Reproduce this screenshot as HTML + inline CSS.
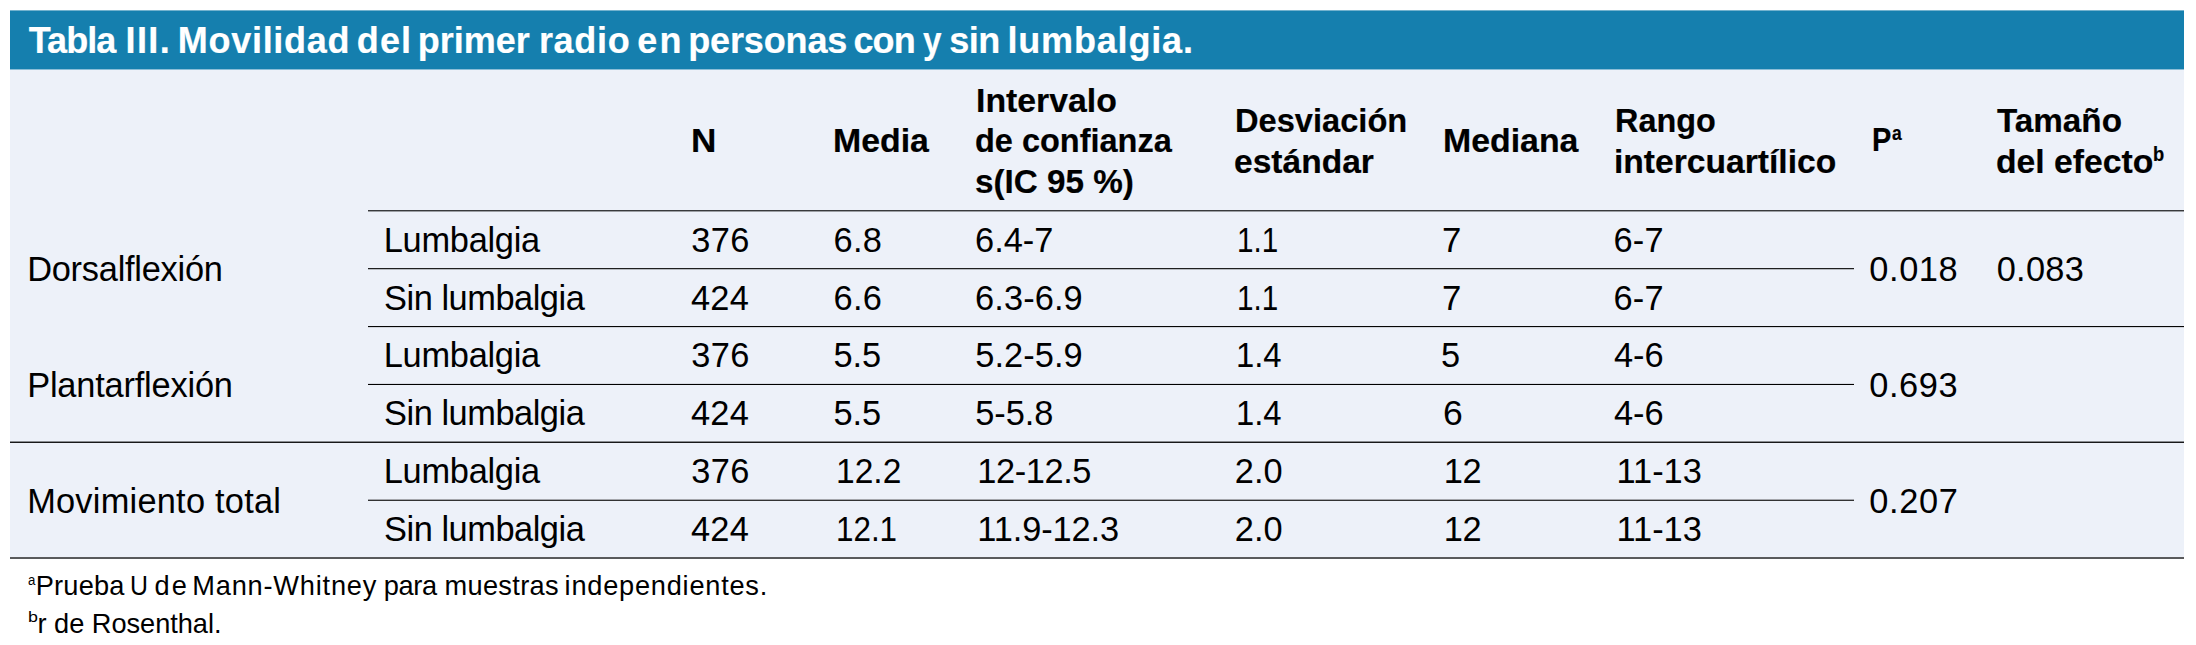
<!DOCTYPE html>
<html lang="es"><head><meta charset="utf-8"><title>Tabla III</title>
<style>
html,body{margin:0;padding:0;background:#fff;}
body{width:2196px;height:645px;position:relative;overflow:hidden;font-family:"Liberation Sans",sans-serif;}
.bar{position:absolute;left:10px;top:11px;width:2174px;height:58px;background:#157fae;}
.bg{position:absolute;left:10px;top:69px;width:2174px;height:488px;background:#edf1f9;}
.t{position:absolute;white-space:nowrap;line-height:1;margin:0;padding:0;color:#000;font-weight:400;transform-origin:0 0;}
.t.b{font-weight:700;-webkit-text-stroke:0.2px #000;}
.t.w{color:#fff;-webkit-text-stroke-color:#fff;}
p,sup{margin:0;padding:0;font-size:inherit;line-height:0;}
.l{position:absolute;}
</style></head><body>
<div class="bar"></div><div class="bg"></div>
<div class="l" style="left:10px;top:10px;width:2174px;height:1px;background:#73b2ce"></div><div class="l" style="left:10px;top:69px;width:2174px;height:1px;background:#8cbed7"></div>
<div class="l" style="left:368px;top:210px;width:1816px;height:1px;background:#393a3c"></div>
<div class="l" style="left:368px;top:211px;width:1816px;height:1px;background:#9c9fa4"></div>
<div class="l" style="left:368px;top:268px;width:1486px;height:1px;background:#1f1f20"></div>
<div class="l" style="left:368px;top:269px;width:1486px;height:1px;background:#b6bac0"></div>
<div class="l" style="left:368px;top:326px;width:1816px;height:1px;background:#050505"></div>
<div class="l" style="left:368px;top:327px;width:1816px;height:1px;background:#d1d4db"></div>
<div class="l" style="left:368px;top:383px;width:1486px;height:1px;background:#d8dbe3"></div>
<div class="l" style="left:368px;top:384px;width:1486px;height:1px;background:#000000"></div>
<div class="l" style="left:368px;top:499px;width:1486px;height:1px;background:#a4a6ac"></div>
<div class="l" style="left:368px;top:500px;width:1486px;height:1px;background:#323334"></div>
<div class="l" style="left:10px;top:441px;width:2174px;height:1px;background:#898c90"></div>
<div class="l" style="left:10px;top:442px;width:2174px;height:1px;background:#181819"></div>
<div class="l" style="left:10px;top:557px;width:2174px;height:1px;background:#5a5b5d"></div>
<div class="l" style="left:10px;top:558px;width:2174px;height:1px;background:#58595b"></div>
<div class="title" role="heading" aria-level="1"><span class="t b w" id="title_0" style="left:28.72px;top:23.03px;font-size:36.00px;letter-spacing:-0.929px">Tabla</span> <span class="t b w" id="title_1" style="left:125.45px;top:23.03px;font-size:36.00px;letter-spacing:1.454px">III.</span> <span class="t b w" id="title_2" style="left:177.72px;top:23.03px;font-size:36.00px;letter-spacing:0.730px">Movilidad</span> <span class="t b w" id="title_3" style="left:356.81px;top:23.03px;font-size:36.00px;letter-spacing:1.091px">del</span> <span class="t b w" id="title_4" style="left:417.68px;top:23.03px;font-size:36.00px;letter-spacing:0.010px">primer</span> <span class="t b w" id="title_5" style="left:538.90px;top:23.03px;font-size:36.00px;letter-spacing:0.720px">radio</span> <span class="t b w" id="title_6" style="left:637.32px;top:23.03px;font-size:36.00px;letter-spacing:2.218px">en</span> <span class="t b w" id="title_7" style="left:688.19px;top:23.03px;font-size:36.00px;letter-spacing:-0.134px">personas</span> <span class="t b w" id="title_8" style="left:853.43px;top:23.03px;font-size:36.00px;letter-spacing:-0.877px">con</span> <span class="t b w" id="title_9" style="left:923.25px;top:23.03px;font-size:36.00px;transform:scaleX(0.9238)">y</span> <span class="t b w" id="title_10" style="left:949.34px;top:23.03px;font-size:36.00px;letter-spacing:-0.542px">sin</span> <span class="t b w" id="title_11" style="left:1007.48px;top:23.03px;font-size:36.00px;letter-spacing:0.823px">lumbalgia.</span></div>
<div role="table" aria-label="Movilidad del primer radio en personas con y sin lumbalgia">
<div role="row"><div role="columnheader"><span class="t b" id="hN" style="left:691.26px;top:123.13px;font-size:34.10px;transform:scaleX(1.0303)">N</span></div><div role="columnheader"><span class="t b" id="hMedia" style="left:833.43px;top:123.13px;font-size:34.10px;transform:scaleX(0.9934)">Media</span></div><div role="columnheader"><span class="t b" id="hInt1" style="left:976.21px;top:82.63px;font-size:34.10px;transform:scaleX(0.9919)">Intervalo</span> <span class="t b" id="hInt2" style="left:975.16px;top:123.13px;font-size:34.10px;transform:scaleX(0.9534)">de confianza</span> <span class="t b" id="hInt3" style="left:974.65px;top:164.13px;font-size:34.10px;transform:scaleX(0.9751)">s(IC 95 %)</span></div><div role="columnheader"><span class="t b" id="hDes1" style="left:1235.02px;top:102.93px;font-size:34.10px;transform:scaleX(0.9571)">Desviación</span> <span class="t b" id="hDes2" style="left:1234.47px;top:143.53px;font-size:34.10px;transform:scaleX(0.9844)">estándar</span></div><div role="columnheader"><span class="t b" id="hMed" style="left:1442.82px;top:123.13px;font-size:34.10px;transform:scaleX(0.9933)">Mediana</span></div><div role="columnheader"><span class="t b" id="hRan1" style="left:1614.86px;top:103.13px;font-size:34.10px;transform:scaleX(0.9506)">Rango</span> <span class="t b" id="hRan2" style="left:1614.17px;top:143.53px;font-size:34.10px;transform:scaleX(0.9863)">intercuartílico</span></div><div role="columnheader"><span class="t b" id="hP" style="left:1872.28px;top:121.93px;font-size:34.10px;transform:scaleX(0.8503)">P</span><sup><span class="t b" id="hPa" style="left:1891.90px;top:123.28px;font-size:20.46px;transform:scaleX(0.8538)">a</span></sup></div><div role="columnheader"><span class="t b" id="hTam1" style="left:1997.30px;top:102.93px;font-size:34.10px;transform:scaleX(0.9752)">Tamaño</span> <span class="t b" id="hTam2" style="left:1995.88px;top:143.53px;font-size:34.10px;transform:scaleX(0.9893)">del efecto</span><sup><span class="t b" id="hTamb" style="left:2153.06px;top:144.18px;font-size:20.46px;transform:scaleX(0.8961)">b</span></sup></div></div>
<div role="row"><div role="rowheader"><span class="t" id="g1" style="left:27.15px;top:251.58px;font-size:34.40px;letter-spacing:-0.250px">Dorsalflexión</span></div><div role="cell"><span class="t" id="r0c0" style="left:383.71px;top:222.68px;font-size:34.40px;letter-spacing:-0.275px">Lumbalgia</span></div><div role="cell"><span class="t" id="r0c1" style="left:691.35px;top:222.68px;font-size:34.40px;letter-spacing:0.352px">376</span></div><div role="cell"><span class="t" id="r0c2" style="left:833.43px;top:222.68px;font-size:34.40px;letter-spacing:0.368px">6.8</span></div><div role="cell"><span class="t" id="r0c3" style="left:975.03px;top:222.68px;font-size:34.40px;letter-spacing:0.004px">6.4-7</span></div><div role="cell"><span class="t" id="r0c4" style="left:1236.51px;top:222.68px;font-size:34.40px;transform:scaleX(0.8622)">1.1</span></div><div role="cell"><span class="t" id="r0c5" style="left:1441.73px;top:222.68px;font-size:34.40px;transform:scaleX(1.0118)">7</span></div><div role="cell"><span class="t" id="r0c6" style="left:1613.43px;top:222.68px;font-size:34.40px;letter-spacing:0.189px">6-7</span></div><div role="cell"><span class="t" id="p1" style="left:1869.28px;top:251.58px;font-size:34.40px;letter-spacing:0.597px">0.018</span></div><div role="cell"><span class="t" id="e1" style="left:1996.74px;top:251.58px;font-size:34.40px;letter-spacing:0.252px">0.083</span></div></div>
<div role="row"><div role="cell"><span class="t" id="r1c0" style="left:384.06px;top:280.53px;font-size:34.40px;letter-spacing:-0.474px">Sin lumbalgia</span></div><div role="cell"><span class="t" id="r1c1" style="left:691.00px;top:280.53px;font-size:34.40px;letter-spacing:0.208px">424</span></div><div role="cell"><span class="t" id="r1c2" style="left:833.43px;top:280.53px;font-size:34.40px;letter-spacing:0.369px">6.6</span></div><div role="cell"><span class="t" id="r1c3" style="left:975.03px;top:280.53px;font-size:34.40px;letter-spacing:0.109px">6.3-6.9</span></div><div role="cell"><span class="t" id="r1c4" style="left:1236.51px;top:280.53px;font-size:34.40px;transform:scaleX(0.8622)">1.1</span></div><div role="cell"><span class="t" id="r1c5" style="left:1441.73px;top:280.53px;font-size:34.40px;transform:scaleX(1.0118)">7</span></div><div role="cell"><span class="t" id="r1c6" style="left:1613.43px;top:280.53px;font-size:34.40px;letter-spacing:0.189px">6-7</span></div></div>
<div role="row"><div role="rowheader"><span class="t" id="g2" style="left:27.15px;top:367.78px;font-size:34.40px;letter-spacing:-0.197px">Plantarflexión</span></div><div role="cell"><span class="t" id="r2c0" style="left:383.71px;top:338.38px;font-size:34.40px;letter-spacing:-0.275px">Lumbalgia</span></div><div role="cell"><span class="t" id="r2c1" style="left:691.35px;top:338.38px;font-size:34.40px;letter-spacing:0.352px">376</span></div><div role="cell"><span class="t" id="r2c2" style="left:833.60px;top:338.38px;font-size:34.40px;letter-spacing:-0.110px">5.5</span></div><div role="cell"><span class="t" id="r2c3" style="left:975.31px;top:338.38px;font-size:34.40px;letter-spacing:0.063px">5.2-5.9</span></div><div role="cell"><span class="t" id="r2c4" style="left:1236.11px;top:338.38px;font-size:34.40px;transform:scaleX(0.9543)">1.4</span></div><div role="cell"><span class="t" id="r2c5" style="left:1441.11px;top:338.38px;font-size:34.40px;transform:scaleX(0.9991)">5</span></div><div role="cell"><span class="t" id="r2c6" style="left:1614.08px;top:338.38px;font-size:34.40px;letter-spacing:-0.109px">4-6</span></div><div role="cell"><span class="t" id="p2" style="left:1869.28px;top:367.78px;font-size:34.40px;letter-spacing:0.567px">0.693</span></div></div>
<div role="row"><div role="cell"><span class="t" id="r3c0" style="left:384.06px;top:396.23px;font-size:34.40px;letter-spacing:-0.474px">Sin lumbalgia</span></div><div role="cell"><span class="t" id="r3c1" style="left:691.00px;top:396.23px;font-size:34.40px;letter-spacing:0.208px">424</span></div><div role="cell"><span class="t" id="r3c2" style="left:833.60px;top:396.23px;font-size:34.40px;letter-spacing:-0.110px">5.5</span></div><div role="cell"><span class="t" id="r3c3" style="left:975.31px;top:396.23px;font-size:34.40px;letter-spacing:-0.059px">5-5.8</span></div><div role="cell"><span class="t" id="r3c4" style="left:1236.11px;top:396.23px;font-size:34.40px;transform:scaleX(0.9543)">1.4</span></div><div role="cell"><span class="t" id="r3c5" style="left:1442.51px;top:396.23px;font-size:34.40px;transform:scaleX(1.0333)">6</span></div><div role="cell"><span class="t" id="r3c6" style="left:1614.08px;top:396.23px;font-size:34.40px;letter-spacing:-0.109px">4-6</span></div></div>
<div role="row"><div role="rowheader"><span class="t" id="g3" style="left:27.15px;top:483.58px;font-size:34.40px;letter-spacing:0.228px">Movimiento total</span></div><div role="cell"><span class="t" id="r4c0" style="left:383.71px;top:454.08px;font-size:34.40px;letter-spacing:-0.275px">Lumbalgia</span></div><div role="cell"><span class="t" id="r4c1" style="left:691.35px;top:454.08px;font-size:34.40px;letter-spacing:0.352px">376</span></div><div role="cell"><span class="t" id="r4c2" style="left:835.62px;top:454.08px;font-size:34.40px;transform:scaleX(0.9760)">12.2</span></div><div role="cell"><span class="t" id="r4c3" style="left:977.32px;top:454.08px;font-size:34.40px;letter-spacing:-0.428px">12-12.5</span></div><div role="cell"><span class="t" id="r4c4" style="left:1234.86px;top:454.08px;font-size:34.40px;letter-spacing:-0.072px">2.0</span></div><div role="cell"><span class="t" id="r4c5" style="left:1443.80px;top:454.08px;font-size:34.40px;letter-spacing:-0.331px">12</span></div><div role="cell"><span class="t" id="r4c6" style="left:1616.44px;top:454.08px;font-size:34.40px;letter-spacing:0.005px">11-13</span></div><div role="cell"><span class="t" id="p3" style="left:1869.28px;top:483.58px;font-size:34.40px;letter-spacing:0.642px">0.207</span></div></div>
<div role="row"><div role="cell"><span class="t" id="r5c0" style="left:384.06px;top:511.93px;font-size:34.40px;letter-spacing:-0.474px">Sin lumbalgia</span></div><div role="cell"><span class="t" id="r5c1" style="left:691.00px;top:511.93px;font-size:34.40px;letter-spacing:0.208px">424</span></div><div role="cell"><span class="t" id="r5c2" style="left:835.55px;top:511.93px;font-size:34.40px;transform:scaleX(0.9119)">12.1</span></div><div role="cell"><span class="t" id="r5c3" style="left:977.32px;top:511.93px;font-size:34.40px;letter-spacing:-0.117px">11.9-12.3</span></div><div role="cell"><span class="t" id="r5c4" style="left:1234.86px;top:511.93px;font-size:34.40px;letter-spacing:-0.072px">2.0</span></div><div role="cell"><span class="t" id="r5c5" style="left:1443.80px;top:511.93px;font-size:34.40px;letter-spacing:-0.331px">12</span></div><div role="cell"><span class="t" id="r5c6" style="left:1616.44px;top:511.93px;font-size:34.40px;letter-spacing:0.005px">11-13</span></div></div>
</div>
<div class="notes">
<p><sup><span class="t" id="f1s" style="left:27.72px;top:573.07px;font-size:14.69px;transform:scaleX(0.9028)">a</span></sup><span class="t" id="f1_0" style="left:35.73px;top:571.88px;font-size:27.20px;letter-spacing:0.213px">Prueba</span> <span class="t" id="f1_1" style="left:130.20px;top:571.88px;font-size:27.20px;transform:scaleX(0.9142)">U</span> <span class="t" id="f1_2" style="left:154.55px;top:571.88px;font-size:27.20px;letter-spacing:2.194px">de</span> <span class="t" id="f1_3" style="left:192.30px;top:571.88px;font-size:27.20px;letter-spacing:0.797px">Mann-Whitney</span> <span class="t" id="f1_4" style="left:383.82px;top:571.88px;font-size:27.20px;letter-spacing:-0.371px">para</span> <span class="t" id="f1_5" style="left:444.44px;top:571.88px;font-size:27.20px;letter-spacing:0.338px">muestras</span> <span class="t" id="f1_6" style="left:564.60px;top:571.88px;font-size:27.20px;letter-spacing:0.763px">independientes.</span></p>
<p><sup><span class="t" id="f2s" style="left:27.53px;top:609.97px;font-size:14.69px;transform:scaleX(1.2136)">b</span></sup><span class="t" id="f2" style="left:37.52px;top:610.18px;font-size:27.20px;letter-spacing:-0.027px">r de Rosenthal.</span></p>
</div>
</body></html>
